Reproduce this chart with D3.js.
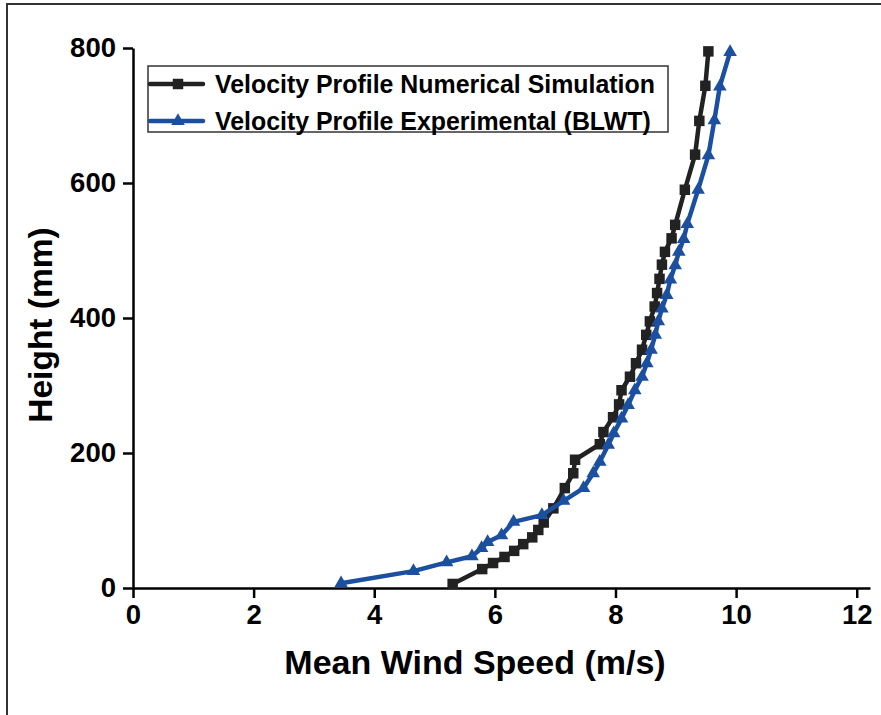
<!DOCTYPE html>
<html>
<head>
<meta charset="utf-8">
<script src="https://cdn.jsdelivr.net/npm/d3@7"></script>
<style>
  html, body { margin: 0; padding: 0; background: #fff; }
  svg { display: block; font-family: "Liberation Sans", Arial, Helvetica, sans-serif; }
</style>
</head>
<body>
<svg id="chart" width="881" height="715"></svg>
<script>
// ---- data ----
const simSpeed = [5.30, 5.79, 5.97, 6.16, 6.32, 6.47, 6.62, 6.72, 6.81, 6.97, 7.16, 7.30, 7.33, 7.74, 7.80, 7.96, 8.06, 8.10, 8.24, 8.34, 8.44, 8.51, 8.57, 8.65, 8.69, 8.73, 8.77, 8.82, 8.93, 8.99, 9.15, 9.32, 9.39, 9.49, 9.54];
const simHeight = [6, 28, 37, 46, 55, 65, 75, 86, 97, 118, 148, 170, 190, 213, 231, 253, 272, 293, 313, 333, 353, 375, 395, 417, 437, 458, 479, 498, 518, 538, 590, 642, 692, 744, 795];
const expSpeed = [3.45, 4.65, 5.20, 5.62, 5.78, 5.88, 6.11, 6.31, 6.78, 7.14, 7.47, 7.63, 7.74, 7.88, 7.97, 8.10, 8.21, 8.32, 8.44, 8.52, 8.59, 8.66, 8.71, 8.77, 8.85, 8.91, 8.99, 9.05, 9.13, 9.19, 9.37, 9.54, 9.64, 9.73, 9.90];
const expHeight = [7, 25, 38, 47, 59, 68, 78, 98, 108, 129, 148, 170, 187, 212, 229, 251, 271, 293, 313, 333, 353, 375, 395, 414, 434, 457, 478, 498, 517, 539, 590, 641, 693, 743, 794];
const xTicks = [0, 2, 4, 6, 8, 10, 12];
const yTicks = [0, 200, 400, 600, 800];
const seriesNames = ["Velocity Profile Numerical Simulation", "Velocity Profile Experimental (BLWT)"];
const xTitle = "Mean Wind Speed (m/s)";
const yTitle = "Height (mm)";

// ---- layout ----
const svg = d3.select("#chart");
const colors = ["#222222", "#1b4f9f"];
const x = d3.scaleLinear().domain([0, 12.22]).range([133, 870]);
const y = d3.scaleLinear().domain([0, 800]).range([588, 48]);

// outer frame (left + top visible)
svg.append("rect").attr("x", 7).attr("y", 4).attr("width", 1000).attr("height", 1000)
  .attr("fill", "none").attr("stroke", "#333").attr("stroke-width", 2);

// axes
const xAxis = svg.append("g").attr("transform", "translate(0,588)")
  .call(d3.axisBottom(x).tickValues(xTicks).tickSize(10).tickSizeOuter(0).tickPadding(6).tickFormat(d3.format("d")));
const yAxis = svg.append("g").attr("transform", "translate(133,0)")
  .call(d3.axisLeft(y).tickValues(yTicks).tickSize(10).tickSizeOuter(0).tickPadding(7).tickFormat(d3.format("d")));
[xAxis, yAxis].forEach(g => {
  g.select(".domain").attr("stroke", "#000").attr("stroke-width", 2.5);
  g.selectAll(".tick line").attr("stroke", "#000").attr("stroke-width", 2.5);
  g.selectAll(".tick text").attr("fill", "#000").attr("font-size", 27.5).attr("font-weight", "bold")
    .attr("font-family", "'Liberation Sans', Arial, sans-serif");
});

// axis titles
svg.append("text").attr("x", 475).attr("y", 674).attr("text-anchor", "middle")
  .attr("font-size", 34).attr("font-weight", "bold").attr("fill", "#000").text(xTitle);
svg.append("text").attr("transform", "translate(52,325) rotate(-90)").attr("text-anchor", "middle")
  .attr("font-size", 33.5).attr("font-weight", "bold").attr("fill", "#000").text(yTitle);

// series
const series = [
  { pts: simSpeed.map((s, i) => [s, simHeight[i]]), sym: d3.symbolSquare, size: 110 },
  { pts: expSpeed.map((s, i) => [s, expHeight[i]]), sym: d3.symbolTriangle, size: 80 }
];
const line = d3.line().x(d => x(d[0])).y(d => y(d[1]));
[0, 1].forEach(k => {
  const s = series[k];
  svg.append("path").attr("d", line(s.pts)).attr("fill", "none")
    .attr("stroke", colors[k]).attr("stroke-width", 4.5).attr("stroke-linejoin", "round");
  svg.append("g").selectAll("path").data(s.pts).join("path")
    .attr("transform", d => `translate(${x(d[0])},${y(d[1])})`)
    .attr("d", d3.symbol().type(s.sym).size(s.size)).attr("fill", colors[k]);
});

// legend
const lg = svg.append("g");
lg.append("rect").attr("x", 148).attr("y", 66).attr("width", 520).attr("height", 66)
  .attr("fill", "#fff").attr("stroke", "#333").attr("stroke-width", 1.5);
[0, 1].forEach(k => {
  const yy = [84, 121][k];
  lg.append("line").attr("x1", 150).attr("x2", 203).attr("y1", yy).attr("y2", yy)
    .attr("stroke", colors[k]).attr("stroke-width", 4.5).attr("stroke-linecap", "round");
  lg.append("path").attr("transform", `translate(178,${yy})`)
    .attr("d", d3.symbol().type(series[k].sym).size(series[k].size)).attr("fill", colors[k]);
  lg.append("text").attr("x", 215).attr("y", yy + 9).attr("font-size", 24.9).attr("font-weight", "bold")
    .attr("fill", "#000").text(seriesNames[k]);
});
</script>
</body>
</html>
